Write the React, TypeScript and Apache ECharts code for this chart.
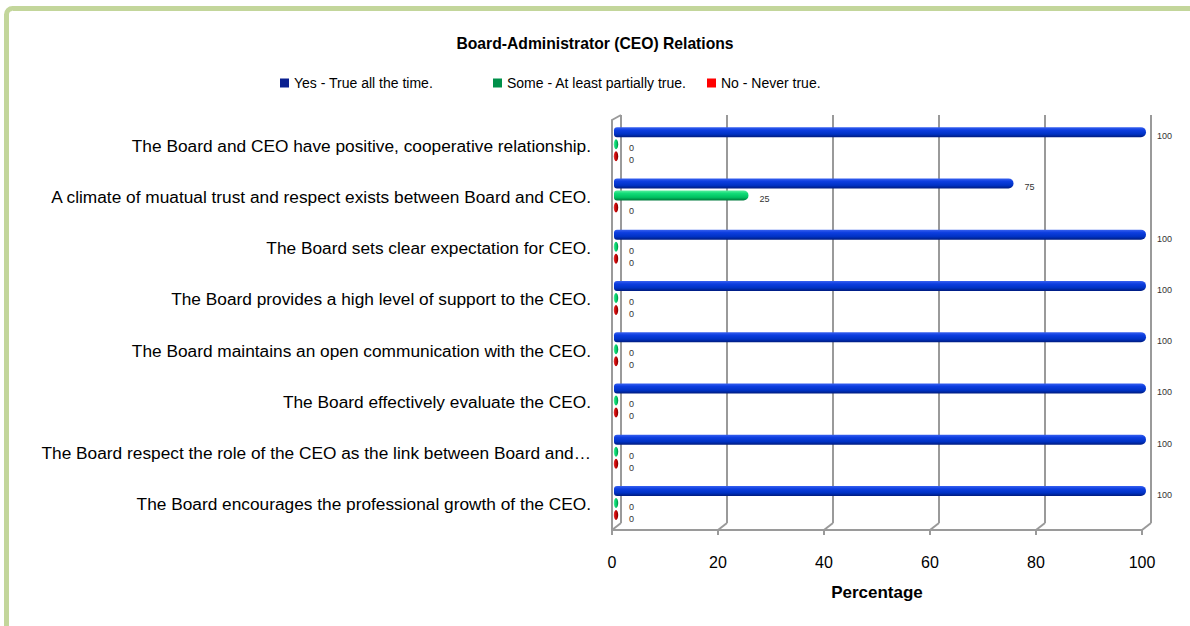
import React, { useEffect, useRef } from "react";
import * as echarts from "echarts";

const categories = [
  "The Board and CEO have positive, cooperative relationship.",
  "A climate of muatual trust and respect exists between Board and CEO.",
  "The Board sets clear expectation for CEO.",
  "The Board provides a high level of support to the CEO.",
  "The Board maintains an open communication with the CEO.",
  "The Board effectively evaluate the CEO.",
  "The Board respect the role of the CEO as the link between Board and…",
  "The Board encourages the professional growth of the CEO.",
];
const yesValues = [100, 75, 100, 100, 100, 100, 100, 100];
const someValues = [0, 25, 0, 0, 0, 0, 0, 0];
const noValues = [0, 0, 0, 0, 0, 0, 0, 0];
const seriesNames = [
  "Yes - True all the time.",
  "Some - At least partially true.",
  "No - Never true.",
];
const xTicks = [0, 20, 40, 60, 80, 100];
const chartTitle = "Board-Administrator (CEO) Relations";
const xAxisName = "Percentage";

const W = 1190;
const H = 626;
const FRONT = { left: 612, right: 48, top: 120, bottom: 96 };
const BACK = { left: 621, right: 39, top: 115, bottom: 103 };
const GRAY = "#9a9a9a";
const FONT = "'Liberation Sans', Arial, sans-serif";

const gradients = [
  [
    [0, "#3a62f0"],
    [0.3, "#0d3ee0"],
    [0.7, "#0032c4"],
    [1, "#001c80"],
  ],
  [
    [0, "#5cf0a0"],
    [0.3, "#12dc78"],
    [0.7, "#00c060"],
    [1, "#007a3c"],
  ],
  [
    [0, "#e84040"],
    [0.3, "#d41010"],
    [0.7, "#b00000"],
    [1, "#6a0000"],
  ],
];
const legendColors = ["#0a2090", "#00904a", "#ff0000"];
const yOffsets = [-13.5, -1.5, 10.5];
const X_DEPTH = 4;
const BAR_H = 10;

function makeRender(idx: number) {
  return (params: any, api: any) => {
    const v = api.value(0);
    const c = api.value(1);
    const p0 = api.coord([0, c]);
    const p1 = api.coord([v, c]);
    const x0 = p0[0] + X_DEPTH;
    const x1 = p1[0] + X_DEPTH;
    const y = p0[1] + yOffsets[idx];
    const stops = gradients[idx].map((s: any) => ({ offset: s[0], color: s[1] }));
    const children: any[] = [];
    if (x1 - x0 > 1) {
      children.push({
        type: "rect",
        shape: { x: x0 - 2, y: y - BAR_H / 2, width: x1 - x0 + 2, height: BAR_H, r: [3, 5, 5, 3] },
        style: { fill: new echarts.graphic.LinearGradient(0, 0, 0, 1, stops) },
      });
    } else {
      children.push({
        type: "ellipse",
        shape: { cx: x0, cy: y, rx: 2.2, ry: BAR_H / 2 },
        style: { fill: new echarts.graphic.LinearGradient(0, 0, 1, 0, stops) },
      });
    }
    children.push({
      type: "text",
      style: {
        text: String(v),
        x: x1 + (v > 0 ? 11 : 13),
        y: y + 4,
        fontSize: 9,
        fontFamily: FONT,
        fill: "#333",
        verticalAlign: "middle",
        align: "left",
      },
    });
    return { type: "group", children };
  };
}

export default function App() {
  const ref = useRef<HTMLDivElement>(null);
  useEffect(() => {
    if (!ref.current) return;
    const chart = echarts.init(ref.current, undefined, { renderer: "svg" });
    const valueSets = [yesValues, someValues, noValues];
    const option: any = {
      animation: false,
      backgroundColor: "#ffffff",
      title: {
        text: chartTitle,
        left: "center",
        top: 30,
        textStyle: { fontFamily: FONT, fontSize: 15.7, fontWeight: "bold", color: "#000" },
      },
      legend: seriesNames.map((n, i) => ({
        data: [n],
        left: [280, 493, 707][i],
        top: 76,
        padding: 0,
        icon: "rect",
        itemWidth: 9,
        itemHeight: 9,
        itemGap: 0,
        textStyle: { fontFamily: FONT, fontSize: 14, color: "#000" },
        selectedMode: false,
      })),
      grid: [
        { ...FRONT, containLabel: false },
        { ...BACK, containLabel: false },
      ],
      xAxis: [
        {
          type: "value",
          gridIndex: 0,
          min: xTicks[0],
          max: xTicks[xTicks.length - 1],
          interval: xTicks[1] - xTicks[0],
          axisLine: { show: true, lineStyle: { color: GRAY, width: 2 } },
          axisTick: { show: true, length: 5, lineStyle: { color: GRAY, width: 2 } },
          splitLine: { show: false },
          axisLabel: { fontFamily: FONT, fontSize: 16, color: "#000", margin: 24 },
          name: xAxisName,
          nameLocation: "middle",
          nameGap: 54,
          nameTextStyle: { fontFamily: FONT, fontSize: 17, fontWeight: "bold", color: "#000" },
        },
        {
          type: "value",
          gridIndex: 1,
          min: xTicks[0],
          max: xTicks[xTicks.length - 1],
          interval: xTicks[1] - xTicks[0],
          axisLine: { show: false },
          axisTick: { show: false },
          axisLabel: { show: false },
          splitLine: { show: true, showMinLine: true, showMaxLine: true, lineStyle: { color: GRAY, width: 2 } },
        },
      ],
      yAxis: [
        {
          type: "category",
          gridIndex: 0,
          data: categories,
          inverse: true,
          axisLine: { show: true, lineStyle: { color: GRAY, width: 2 } },
          axisTick: { show: false },
          axisLabel: { fontFamily: FONT, fontSize: 17.3, color: "#000", margin: 21, padding: [11, 0, 0, 0] },
        },
        {
          type: "category",
          gridIndex: 1,
          data: categories,
          inverse: true,
          show: false,
        },
      ],
      series: valueSets.map((vals, i) => ({
        type: "custom",
        name: seriesNames[i],
        xAxisIndex: 0,
        yAxisIndex: 0,
        itemStyle: { color: legendColors[i] },
        encode: { x: 0, y: 1 },
        clip: false,
        z: 5,
        renderItem: makeRender(i),
        data: vals.map((v, j) => [v, j]),
      })),
    };
    chart.setOption(option);

    const frontBottom = H - FRONT.bottom;
    const backBottom = H - BACK.bottom;
    const lines: any[] = [];
    xTicks.forEach((t) => {
      const fx = chart.convertToPixel({ xAxisIndex: 0 }, t) as number;
      const bx = chart.convertToPixel({ xAxisIndex: 1 }, t) as number;
      lines.push({
        type: "line",
        shape: { x1: fx, y1: frontBottom, x2: bx, y2: backBottom },
        style: { stroke: GRAY, lineWidth: 2 },
        silent: true,
      });
    });
    const fx0 = chart.convertToPixel({ xAxisIndex: 0 }, xTicks[0]) as number;
    const bx0 = chart.convertToPixel({ xAxisIndex: 1 }, xTicks[0]) as number;
    lines.push({
      type: "line",
      shape: { x1: fx0, y1: FRONT.top, x2: bx0, y2: BACK.top },
      style: { stroke: GRAY, lineWidth: 2 },
      silent: true,
    });
    lines.push({
      type: "rect",
      shape: { x: 6.5, y: 8.5, width: 1400, height: 900, r: 6 },
      style: { fill: "none", stroke: "#c3d69b", lineWidth: 5 },
      silent: true,
      z: 100,
    });
    chart.setOption({ graphic: lines });

    return () => chart.dispose();
  }, []);
  return (
    <div
      ref={ref}
      style={{ position: "fixed", left: 0, top: 0, width: W, height: H, background: "#fff" }}
    />
  );
}
